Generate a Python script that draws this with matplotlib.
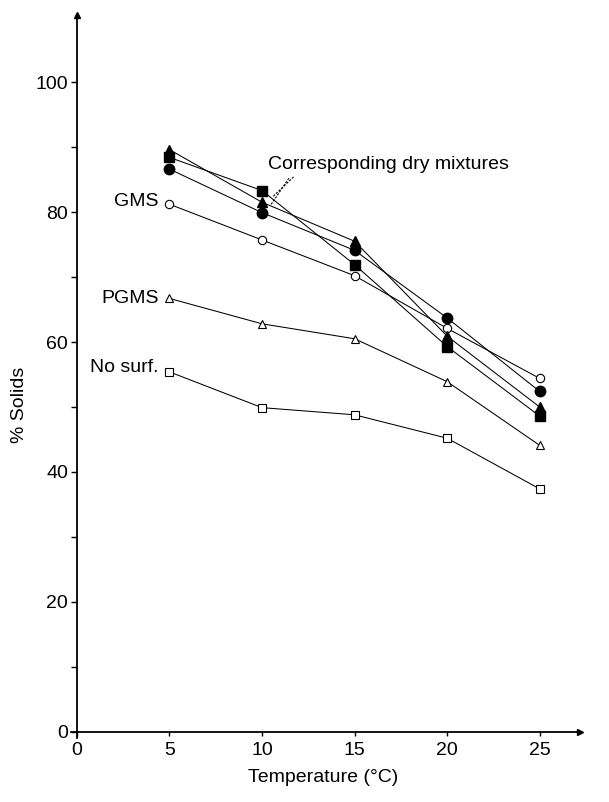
import matplotlib
matplotlib.use("Agg")
import matplotlib.pyplot as plt

plt.rcParams["font.family"] = ["Liberation Sans", "DejaVu Sans"]
plt.rcParams["font.size"] = 14

# Data
temps = [5, 10, 15, 20, 25]
gms = [81.2, 75.7, 70.2, 62.1, 54.4]
pgms = [66.7, 62.8, 60.5, 53.9, 44.1]
no_surf = [55.4, 49.9, 48.8, 45.2, 37.4]
dry_circle = [86.6, 79.9, 74.1, 63.7, 52.4]
dry_triangle = [89.6, 81.5, 75.5, 60.9, 50.0]
dry_square = [88.4, 83.3, 71.9, 59.3, 48.6]

fig = plt.figure(figsize=(6.09, 8.02), dpi=100)
ax = fig.add_axes([71.4 / 609, 0.0792, 509 / 609, 0.902])
ax.set_xlim(-0.3, 27.2)
ax.set_ylim(-1.0, 110.3)

lw = 0.75
ax.plot(temps, gms, "-o", color="black", lw=lw, ms=6, mfc="white", mec="black", mew=0.8)
ax.plot(temps, pgms, "-^", color="black", lw=lw, ms=6, mfc="white", mec="black", mew=0.8)
ax.plot(temps, no_surf, "-s", color="black", lw=lw, ms=6, mfc="white", mec="black", mew=0.8)
ax.plot(temps, dry_circle, "-o", color="black", lw=lw, ms=7.5)
ax.plot(temps, dry_triangle, "-^", color="black", lw=lw, ms=7)
ax.plot(temps, dry_square, "-s", color="black", lw=lw, ms=6.5)

# series labels
ax.annotate("GMS", (temps[0], gms[0]), xytext=(-8, 2), textcoords="offset points",
            ha="right", va="center")
ax.annotate("PGMS", (temps[0], pgms[0]), xytext=(-8, 0), textcoords="offset points",
            ha="right", va="center")
ax.annotate("No surf.", (temps[0], no_surf[0]), xytext=(-8, 3), textcoords="offset points",
            ha="right", va="center")

ax.text(10.3, 87.3, "Corresponding dry mixtures", ha="left", va="center")
ax.plot([11.7, 10.6], [85.4, 82.4], ls=(0, (2, 1.3)), color="black", lw=0.8)
ax.plot([11.45, 10.45], [85.2, 81.0], ls=(0, (2, 1.3)), color="black", lw=0.8)

# axes with arrows
for s in ["top", "right"]:
    ax.spines[s].set_visible(False)
ax.spines["left"].set_position(("data", 0))
ax.spines["bottom"].set_position(("data", 0))
ax.spines["left"].set_linewidth(1.3)
ax.spines["bottom"].set_linewidth(1.3)
ax.plot(1, 0, ">k", ms=5, transform=ax.get_yaxis_transform(), clip_on=False)
ax.plot(0, 1, "^k", ms=5, transform=ax.get_xaxis_transform(), clip_on=False)

ax.set_xticks([0, 5, 10, 15, 20, 25])
ax.set_yticks([0, 20, 40, 60, 80, 100])
ax.set_yticks([10, 30, 50, 70, 90], minor=True)
ax.tick_params(axis="x", which="major", direction="out", length=3, width=1, pad=4)
ax.tick_params(axis="y", which="major", direction="out", length=4.5, width=1, pad=2)
ax.tick_params(axis="y", which="minor", direction="out", length=4.5, width=1)

fig.text(323 / 609, 1 - 778 / 802, "Temperature (°C)", ha="center", va="center")
fig.text(20 / 609, 1 - 405 / 802, "% Solids", rotation=90, ha="center", va="center")

fig.savefig("out.png", dpi=100)
